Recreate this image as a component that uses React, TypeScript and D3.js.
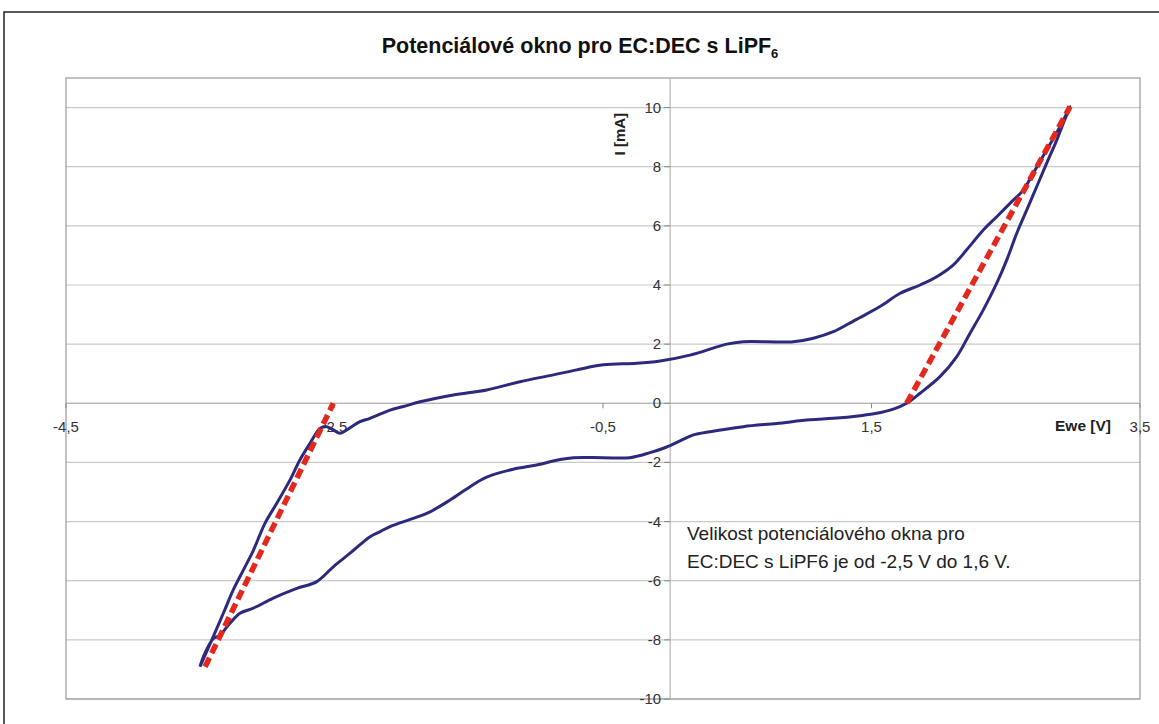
import React from "react";
import * as d3 from "d3";

const W = 1159;
const H = 724;

// tick values
const xTicks = [-4.5, -2.5, -0.5, 1.5, 3.5];
const yTicks = [-10, -8, -6, -4, -2, 0, 2, 4, 6, 8, 10];

// cyclic voltammogram (Ewe [V], I [mA]) in drawing order
const cvE = [
  -3.502, -3.403, -3.328, -3.254, -3.179, -3.105, -3.018, -2.93, -2.831, -2.757, -2.682, -2.608, -2.558, -2.509,
  -2.459, -2.409, -2.31, -2.235, -2.086, -1.987, -1.863, -1.615, -1.366, -1.118, -0.87, -0.696, -0.497, -0.249,
  -0.075, 0.148, 0.422, 0.545, 0.918, 1.067, 1.216, 1.365, 1.415, 1.563, 1.714, 1.862, 1.986, 2.11, 2.209, 2.333,
  2.433, 2.556, 2.631, 2.705, 2.805, 2.904, 2.979,
  2.929, 2.88, 2.805, 2.731, 2.656, 2.582, 2.507, 2.433, 2.333, 2.234, 2.135, 2.01, 1.862, 1.762, 1.663, 1.539,
  1.415, 1.216, 1.042, 0.794, 0.545, 0.297, 0.173, 0.074, -0.05, -0.15, -0.299, -0.498, -0.721, -0.82, -0.994,
  -1.168, -1.366, -1.49, -1.639, -1.788, -1.913, -2.086, -2.161, -2.235, -2.384, -2.509, -2.632, -2.781, -2.956,
  -3.105, -3.204, -3.279, -3.353, -3.405, -3.47, -3.502,
];
const cvI = [
  -8.91, -7.89, -7.1, -6.31, -5.64, -4.98, -4.06, -3.38, -2.59, -1.91, -1.35, -0.85, -0.79, -0.9,
  -1.01, -0.9, -0.62, -0.51, -0.23, -0.11, 0.05, 0.28, 0.45, 0.73, 0.96, 1.13, 1.3, 1.35,
  1.43, 1.63, 2.0, 2.08, 2.08, 2.2, 2.42, 2.78, 2.9, 3.27, 3.72, 4.0, 4.28, 4.68, 5.19, 5.86,
  6.31, 6.87, 7.21, 7.78, 8.57, 9.35, 10.03,
  9.47, 8.9, 8.12, 7.33, 6.53, 5.75, 4.84, 4.06, 3.16, 2.37, 1.58, 0.9, 0.34, 0.0, -0.2, -0.34,
  -0.42, -0.51, -0.56, -0.68, -0.79, -0.96, -1.07, -1.27, -1.52, -1.67, -1.84, -1.84, -1.84, -1.9, -2.09,
  -2.23, -2.5, -2.82, -3.27, -3.67, -3.89, -4.17, -4.34, -4.51, -5.07, -5.53, -6.03, -6.26, -6.59,
  -6.93, -7.1, -7.44, -7.84, -7.97, -8.5, -8.91,
];

// tangent lines (red dashed)
const leftTangentE = [-3.464, -2.509];
const leftTangentI = [-8.91, 0];
const rightTangentE = [1.762, 2.979];
const rightTangentI = [0, 10.03];

const fmt = (v: number) => String(v).replace(".", ",");

export default function App() {
  const left = 66, right = 1140, top = 78, bottom = 699;
  const x = d3.scaleLinear().domain([-4.5, 3.5]).range([left, right]);
  const y = d3.scaleLinear().domain([-10, 11]).range([bottom, top]);

  const line = d3
    .line<[number, number]>()
    .x((d) => x(d[0]))
    .y((d) => y(d[1]))
    .curve(d3.curveCatmullRom.alpha(0.5));
  const straight = d3
    .line<[number, number]>()
    .x((d) => x(d[0]))
    .y((d) => y(d[1]));

  const cv: [number, number][] = cvE.map((e, i) => [e, cvI[i]]);
  const lt: [number, number][] = leftTangentE.map((e, i) => [e, leftTangentI[i]]);
  const rt: [number, number][] = rightTangentE.map((e, i) => [e, rightTangentI[i]]);

  const x0 = x(0);
  const y0 = y(0);
  const font = "'Liberation Sans', Arial, sans-serif";

  return (
    <svg
      width={W}
      height={H}
      style={{ position: "absolute", left: 0, top: 0, background: "#fff" }}
      fontFamily={font}
    >
      <rect x={4} y={12} width={1170} height={730} fill="#fff" stroke="#222" strokeWidth={1.5} />
      <text x={580} y={53} textAnchor="middle" fontSize={21.5} fontWeight="bold" fill="#111">
        Potenciálové okno pro EC:DEC s LiPF
        <tspan fontSize={13} dy={5}>6</tspan>
      </text>

      {/* gridlines */}
      {yTicks.map((t) => (
        <line key={"g" + t} x1={left} x2={right} y1={y(t)} y2={y(t)} stroke="#c9c9c9" strokeWidth={1.2} />
      ))}
      <rect x={left} y={top} width={right - left} height={bottom - top} fill="none" stroke="#9a9a9a" strokeWidth={1.2} />

      {/* axes */}
      <line x1={x0} x2={x0} y1={top} y2={bottom} stroke="#b5b5b5" strokeWidth={1.2} />
      <line x1={left} x2={right} y1={y0} y2={y0} stroke="#b5b5b5" strokeWidth={1.2} />
      {yTicks.map((t) => (
        <g key={"yt" + t}>
          <line x1={x0 - 6} x2={x0} y1={y(t)} y2={y(t)} stroke="#888" strokeWidth={1} />
          <text x={x0 - 9} y={y(t) + 5} textAnchor="end" fontSize={15} fill="#333">
            {fmt(t)}
          </text>
        </g>
      ))}
      {xTicks.map((t) => (
        <g key={"xt" + t}>
          <line x1={x(t)} x2={x(t)} y1={y0} y2={y0 + 5} stroke="#888" strokeWidth={1} />
          <text x={x(t)} y={y0 + 29} textAnchor="middle" fontSize={15} fill="#333">
            {fmt(t)}
          </text>
        </g>
      ))}
      <text
        transform={`translate(${x0 - 45},${y(9.1)}) rotate(-90)`}
        textAnchor="middle"
        fontSize={15}
        fontWeight="bold"
        fill="#222"
      >
        I [mA]
      </text>
      <text x={1111} y={431} textAnchor="end" fontSize={15.5} fontWeight="bold" fill="#222">
        Ewe [V]
      </text>

      {/* data */}
      <path d={line(cv) || ""} fill="none" stroke="#2d2a7e" strokeWidth={3} strokeLinejoin="round" />
      <path d={straight(lt) || ""} fill="none" stroke="#e3281e" strokeWidth={5.5} strokeDasharray="10,5" />
      <path d={straight(rt) || ""} fill="none" stroke="#e3281e" strokeWidth={5.5} strokeDasharray="10,5" />

      <text x={687} y={540} fontSize={19} fill="#222">
        Velikost potenciálového okna pro
      </text>
      <text x={687} y={568} fontSize={19} fill="#222">
        EC:DEC s LiPF6 je od -2,5 V do 1,6 V.
      </text>
    </svg>
  );
}
